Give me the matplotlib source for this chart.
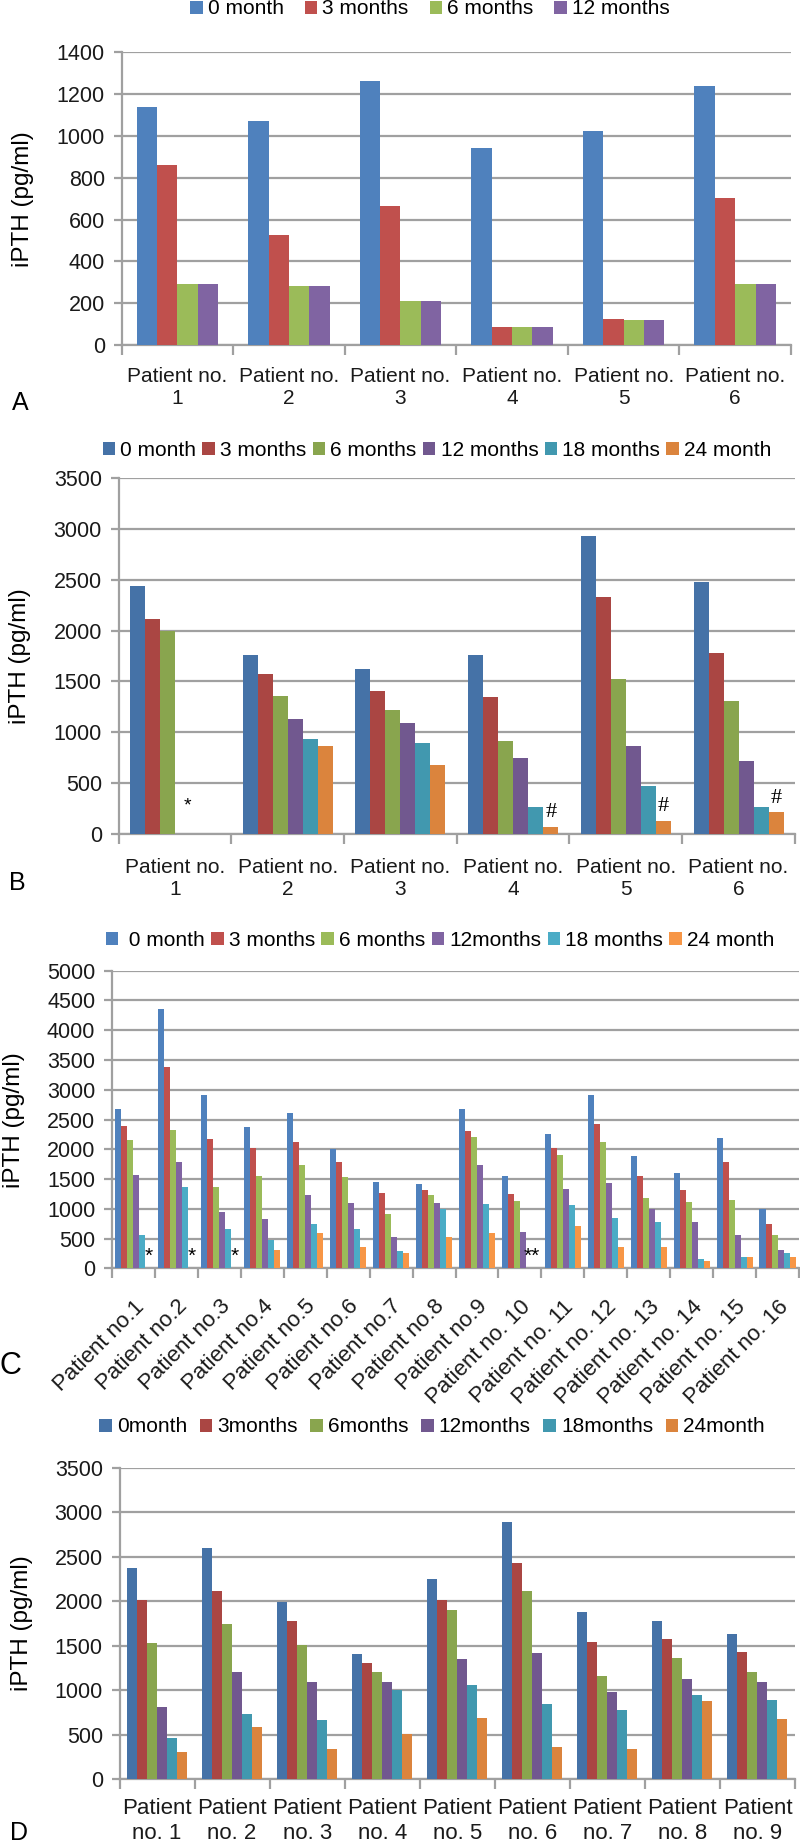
import numpy as np
import matplotlib.pyplot as plt

plt.rcParams['font.family'] = ['Liberation Sans', 'DejaVu Sans']

nan = np.nan

# panel A
a_patients = ["Patient no.\n%d" % i for i in range(1, 7)]
a_series = ["0 month", "3 months", "6 months", "12 months"]
a_0m = [1140, 1070, 1265, 941, 1024, 1241]
a_3m = [861, 528, 667, 86, 124, 705]
a_6m = [290, 282, 210, 86, 118, 290]
a_12m = [290, 282, 210, 86, 118, 290]

# panel B
b_patients = ["Patient no.\n%d" % i for i in range(1, 7)]
b_series = ["0 month", "3 months", "6 months", "12 months", "18 months", "24 month"]
b_0m = [2440, 1759, 1622, 1759, 2930, 2476]
b_3m = [2109, 1570, 1409, 1344, 2325, 1776]
b_6m = [1995, 1357, 1216, 919, 1524, 1308]
b_12m = [nan, 1128, 1089, 752, 867, 723]
b_18m = [nan, 935, 893, 271, 471, 271]
b_24m = [nan, 867, 683, 75, 134, 216]
b_marks = ["*", "", "", "#", "#", "#"]

# panel C
c_patients = ["Patient no.%d" % i for i in range(1, 10)] + ["Patient no. %d" % i for i in range(10, 17)]
c_series = [" 0 month", "3 months", "6 months", "12months", "18 months", "24 month"]
c_0m = [2671, 4362, 2912, 2369, 2609, 2005, 1450, 1411, 2671, 1545, 2251, 2912, 1881, 1601, 2184, 991]
c_3m = [2396, 3382, 2178, 2021, 2117, 1786, 1266, 1322, 2301, 1243, 2021, 2419, 1545, 1322, 1786, 739]
c_6m = [2156, 2318, 1361, 1545, 1736, 1529, 918, 1226, 2206, 1131, 1904, 2117, 1181, 1109, 1148, 565]
c_12m = [1573, 1786, 941, 823, 1226, 1103, 526, 1103, 1730, 616, 1338, 1428, 991, 778, 565, 308]
c_18m = [565, 1361, 655, 470, 739, 655, 286, 991, 1081, nan, 1058, 845, 773, 151, 190, 263]
c_24m = [nan, nan, nan, 314, 588, 353, 263, 521, 588, nan, 717, 353, 353, 123, 190, 190]
c_marks = ["*", "*", "*", "", "", "", "", "", "", "**", "", "", "", "", "", ""]

# panel D
d_patients = ["Patient\nno. %d" % i for i in range(1, 10)]
d_series = ["0month", "3months", "6months", "12months", "18months", "24month"]
d_0m = [2376, 2593, 1994, 1405, 2245, 2890, 1878, 1777, 1627]
d_3m = [2013, 2110, 1777, 1308, 2009, 2429, 1540, 1578, 1424]
d_6m = [1525, 1743, 1510, 1207, 1897, 2110, 1158, 1357, 1207]
d_12m = [813, 1207, 1094, 1094, 1346, 1420, 975, 1121, 1094]
d_18m = [457, 727, 660, 997, 1061, 840, 776, 941, 892]
d_24m = [307, 588, 341, 510, 690, 356, 341, 873, 675]

light = ["#4F81BD", "#C0504D", "#9BBB59", "#8064A2", "#4BACC6", "#F79646"]
dark = ["#4572A7", "#AA4643", "#89A54E", "#71588F", "#4198AF", "#DB843D"]
gray = "#A0A0A0"

W, H = 800, 1843
fig = plt.figure(figsize=(W / 100, H / 100), dpi=100)


def axes_px(x0, y0, x1, y1):
    return fig.add_axes([x0 / W, 1 - y1 / H, (x1 - x0) / W, (y1 - y0) / H])


def draw(ax, cats, series, names, colors, ymax, step, group, pad=17, xsize=16):
    n = len(cats)
    k = len(series)
    bw = group / k
    x = np.arange(n)
    for i, vals in enumerate(series):
        ax.bar(x - group / 2 + bw * (i + 0.5), vals, bw, color=colors[i],
               label=names[i], zorder=3)
    ax.set_xlim(-0.5, n - 0.5)
    ax.set_ylim(0, ymax)
    ax.set_yticks(np.arange(0, ymax + 1, step))
    ax.yaxis.grid(True, color=gray, lw=1.6, zorder=0)
    ax.set_axisbelow(True)
    for s in ["top", "right"]:
        ax.spines[s].set_visible(False)
    for s in ["left", "bottom"]:
        ax.spines[s].set_color(gray)
        ax.spines[s].set_linewidth(1.6)
    ax.set_xticks(np.arange(n + 1) - 0.5)
    ax.set_xticklabels([])
    ax.tick_params(axis="x", which="major", length=7, width=1.6, color=gray)
    ax.set_xticks(x, minor=True)
    ax.set_xticklabels(cats, minor=True, fontsize=xsize, color="#1a1a1a")
    ax.tick_params(axis="x", which="minor", length=0, pad=pad)
    ax.tick_params(axis="y", length=6, width=1.6, color=gray, labelsize=15.5,
                   labelcolor="#1a1a1a", pad=6)
    return bw


def legend(ax, cx, cy, ncol, spacing):
    ax.legend(loc="center", bbox_to_anchor=(cx / W, 1 - cy / H),
              bbox_transform=fig.transFigure, ncol=ncol, frameon=False,
              fontsize=15, handlelength=0.6, handleheight=0.6,
              handletextpad=0.25, columnspacing=spacing, borderpad=0)


# A
axA = axes_px(121.5, 52.3, 791, 345)
draw(axA, a_patients, [a_0m, a_3m, a_6m, a_12m], a_series, light, 1400, 200, 0.73, pad=16, xsize=15)
legend(axA, 430, 9, 4, 1.0)
fig.text(23 / W, 1 - 199 / H, "iPTH (pg/ml)", rotation=90, ha="center", va="center", fontsize=17.5)
fig.text(20 / W, 1 - 403 / H, "A", ha="center", va="center", fontsize=18)

# B
axB = axes_px(118.5, 477.7, 795, 834.3)
bw = draw(axB, b_patients, [b_0m, b_3m, b_6m, b_12m, b_18m, b_24m], b_series, dark, 3500, 500, 0.8, pad=17, xsize=15)
legend(axB, 437, 450, 6, 0.3)
for i, m in enumerate(b_marks):
    if m == "*":
        axB.text(i + 0.11, 280, m, ha="center", va="center", fontsize=14)
    elif m == "#":
        axB.text(i + 0.4 - bw / 2, b_24m[i] + 135, m, ha="center", va="center",
                 fontsize=16, family="Liberation Serif")
fig.text(20.5 / W, 1 - 656 / H, "iPTH (pg/ml)", rotation=90, ha="center", va="center", fontsize=17.5)
fig.text(17 / W, 1 - 883 / H, "B", ha="center", va="center", fontsize=18)

# C
axC = axes_px(112, 970.7, 799, 1268.3)
bw = draw(axC, c_patients, [c_0m, c_3m, c_6m, c_12m, c_18m, c_24m], c_series, light, 5000, 500, 0.84, pad=20)
for lab in axC.get_xticklabels(minor=True):
    lab.set_rotation(45)
    lab.set_ha("right")
    lab.set_rotation_mode("anchor")
legend(axC, 440, 940, 6, 0.3)
for i, m in enumerate(c_marks):
    if m == "*":
        axC.text(i + 0.42 - bw / 2, 207, m, ha="center", va="center", fontsize=15)
    elif m == "**":
        axC.text(i + 0.28, 207, m, ha="center", va="center", fontsize=15)
fig.text(14 / W, 1 - 1120 / H, "iPTH (pg/ml)", rotation=90, ha="center", va="center", fontsize=17.5)
fig.text(10 / W, 1 - 1366 / H, "C", ha="center", va="center", fontsize=22)

# D
axD = axes_px(119.5, 1467.7, 795, 1779)
draw(axD, d_patients, [d_0m, d_3m, d_6m, d_12m, d_18m, d_24m], d_series, dark, 3500, 500, 0.8, pad=14)
legend(axD, 432, 1427, 6, 0.6)
fig.text(22 / W, 1 - 1623 / H, "iPTH (pg/ml)", rotation=90, ha="center", va="center", fontsize=17.5)
fig.text(19 / W, 1 - 1833 / H, "D", ha="center", va="center", fontsize=18)

plt.savefig("out.png", dpi=100)
